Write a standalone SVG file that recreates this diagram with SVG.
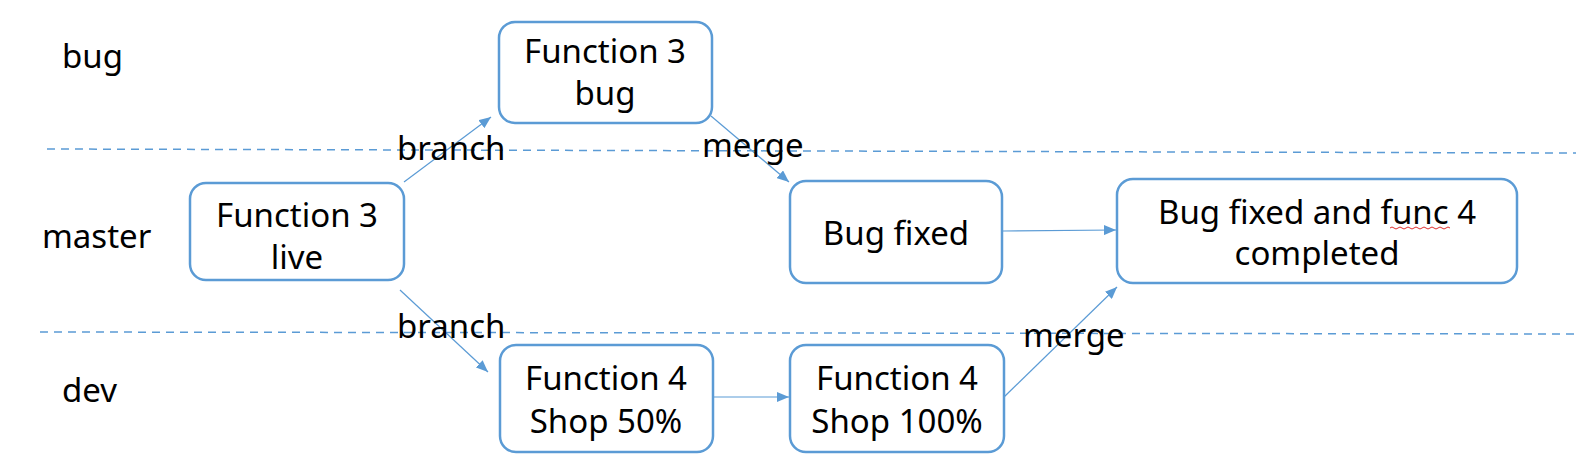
<svg xmlns="http://www.w3.org/2000/svg" width="1576" height="461" viewBox="0 0 1576 461">
<style>
.box{fill:#fff;stroke:#5B9BD5;stroke-width:2.5}
.t{font-family:"Noto Sans","Liberation Sans",sans-serif;font-size:33px;fill:#000;text-anchor:middle}
.l{font-family:"Noto Sans","Liberation Sans",sans-serif;font-size:33px;fill:#000}
.c{fill:none;stroke:#5B9BD5;stroke-width:1.2}
.d{fill:none;stroke:#5B9BD5;stroke-width:1.5;stroke-dasharray:8 6}
</style>
<defs>
<marker id="ah" viewBox="0 0 12 10" refX="12" refY="5" markerWidth="12" markerHeight="10" markerUnits="userSpaceOnUse" orient="auto">
<path d="M0,0 L12,5 L0,10 Z" fill="#5B9BD5"/>
</marker>
</defs>
<rect width="1576" height="461" fill="#fff"/>
<g id="lanes">
<path class="d" d="M47,149 L1576,153"/>
<path class="d" d="M40,332 L1576,334"/>
<text class="l" x="62" y="68">bug</text>
<text class="l" x="42" y="248">master</text>
<text class="l" x="62" y="402">dev</text>
</g>
<g id="connectors">
<path class="c" d="M404,182 L491,117" marker-end="url(#ah)"/>
<path class="c" d="M711,116 L789,182" marker-end="url(#ah)"/>
<path class="c" d="M1003,231 L1116,230" marker-end="url(#ah)"/>
<path class="c" d="M400,290 L488,372" marker-end="url(#ah)"/>
<path class="c" d="M713,397 L789,397" marker-end="url(#ah)"/>
<path class="c" d="M1004,397 L1117,287" marker-end="url(#ah)"/>
<text class="l" x="397" y="160">branch</text>
<text class="l" x="702" y="157">merge</text>
<text class="l" x="397" y="338">branch</text>
<text class="l" x="1023" y="347">merge</text>
</g>
<g id="n1">
<rect class="box" x="190" y="183" width="214" height="97" rx="16"/>
<text class="t" x="297" y="227">Function 3</text>
<text class="t" x="297" y="269">live</text>
</g>
<g id="n2">
<rect class="box" x="499" y="22" width="213" height="101" rx="16"/>
<text class="t" x="605" y="63">Function 3</text>
<text class="t" x="605" y="105">bug</text>
</g>
<g id="n3">
<rect class="box" x="790" y="181" width="212" height="102" rx="16"/>
<text class="t" x="896" y="245">Bug fixed</text>
</g>
<g id="n4">
<rect class="box" x="1117" y="179" width="400" height="104" rx="16"/>
<text class="t" x="1317" y="224">Bug fixed and func 4</text>
<text class="t" x="1317" y="265">completed</text>
<path d="M1390,228 q2,-2 4,0 t4,0 t4,0 t4,0 t4,0 t4,0 t4,0 t4,0 t4,0 t4,0 t4,0 t4,0 t4,0 t4,0 t4,0" fill="none" stroke="#e03030" stroke-width="1"/>
</g>
<g id="n5">
<rect class="box" x="500" y="345" width="213" height="107" rx="16"/>
<text class="t" x="606" y="390">Function 4</text>
<text class="t" x="606" y="433">Shop 50%</text>
</g>
<g id="n6">
<rect class="box" x="790" y="345" width="214" height="107" rx="16"/>
<text class="t" x="897" y="390">Function 4</text>
<text class="t" x="897" y="433">Shop 100%</text>
</g>
</svg>
